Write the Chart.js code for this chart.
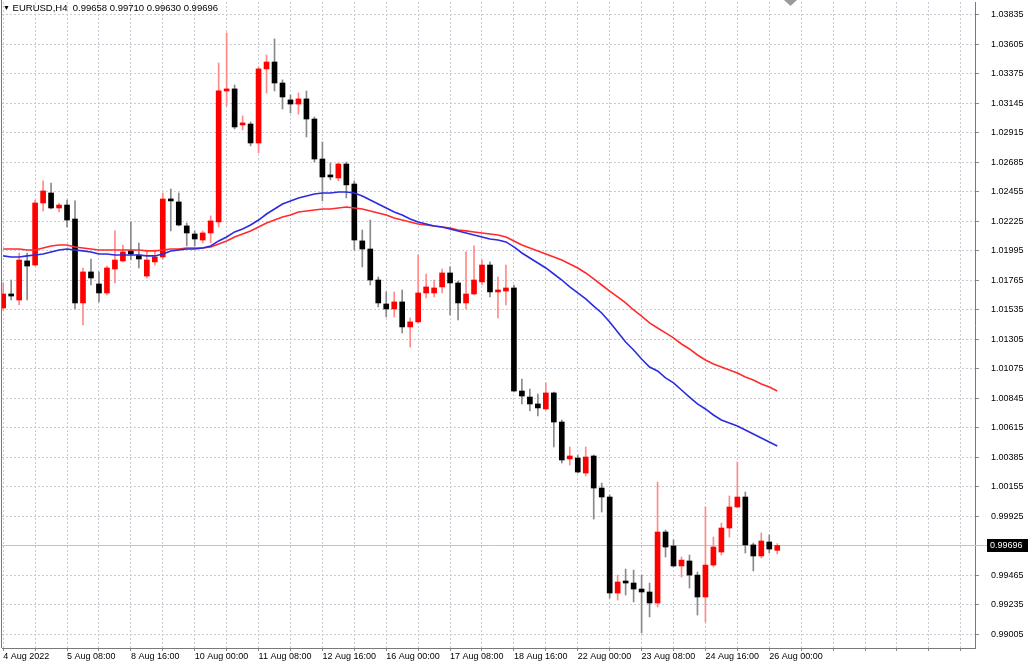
<!DOCTYPE html>
<html><head><meta charset="utf-8">
<script src="https://cdn.jsdelivr.net/npm/chart.js@4.4.0/dist/chart.umd.min.js"></script>
<style>
html,body{margin:0;padding:0;background:#fff;}
#wrap{position:relative;width:1032px;height:669px;overflow:hidden;}
#hdr{position:absolute;left:3px;top:1px;font:9.5px 'Liberation Sans',Arial,sans-serif;color:#000;white-space:pre;line-height:14px;}
#hdr .tri{font-size:7px;vertical-align:1px;}
</style></head><body>
<div id="wrap"><canvas id="c" width="1032" height="669"></canvas><div id="hdr"><span class="tri">▼</span> EURUSD,H4  0.99658 0.99710 0.99630 0.99696</div></div>
<script>
// ---- data (EURUSD H4, 4 Aug 2022 00:00 .. 26 Aug 2022 04:00) ----
const opens = [1.01549,1.01658,1.01611,1.01916,1.01884,1.02368,1.02446,1.02329,1.02352,1.02243,
1.01588,1.01830,1.01736,1.01666,1.01853,1.01916,1.01994,1.01962,1.01798,1.01908,
1.01947,1.02399,1.02376,1.02189,1.02126,1.02079,1.02134,1.02220,1.03242,1.03258,
1.02977,1.02984,1.02836,1.03414,1.03468,1.03304,1.03172,1.03140,1.03180,1.03023,
1.02711,1.02579,1.02563,1.02672,1.02516,1.02072,1.02009,1.01767,1.01580,1.01541,
1.01596,1.01401,1.01440,1.01666,1.01666,1.01713,1.01822,1.01744,1.01588,1.01658,
1.01752,1.01884,1.01674,1.01681,1.01705,1.00901,1.00854,1.00800,1.00761,1.00886,
1.00659,1.00371,1.00378,1.00261,1.00394,1.00144,1.00074,0.99325,0.99419,0.99403,
0.99356,0.99333,0.99247,0.99801,0.99692,0.99536,0.99575,0.99465,0.99294,0.99543,
0.99645,0.99832,0.99996,1.00074,0.99700,0.99614,0.99723,0.99658];
const highs = [1.01744,1.01767,1.01978,1.01978,1.02391,1.02540,1.02524,1.02368,1.02391,1.02384,
1.01861,1.01931,1.01830,1.01876,1.02150,1.02040,1.02220,1.02056,1.02001,1.02001,
1.02446,1.02477,1.02446,1.02212,1.02150,1.02150,1.02267,1.03460,1.03695,1.03289,
1.03047,1.03000,1.03429,1.03523,1.03648,1.03328,1.03211,1.03226,1.03242,1.03039,
1.02844,1.02680,1.02680,1.02688,1.02540,1.02157,1.02235,1.01791,1.01674,1.01674,
1.01689,1.01471,1.01962,1.01814,1.01767,1.01853,1.01869,1.01759,1.01986,1.02033,
1.01923,1.01908,1.01791,1.01884,1.01728,1.00995,1.00917,1.00878,1.00964,1.00893,
1.00675,1.00464,1.00402,1.00464,1.00402,1.00183,1.00090,0.99465,0.99512,0.99504,
0.99465,0.99403,1.00191,0.99817,0.99739,0.99606,0.99621,0.99489,0.99996,0.99762,
0.99871,1.00082,1.00347,1.00113,0.99715,0.99793,0.99778,0.99710];
const lows = [1.01533,1.01611,1.01572,1.01611,1.01876,1.02306,1.02321,1.02298,1.02181,1.01541,
1.01416,1.01728,1.01596,1.01650,1.01744,1.01908,1.01923,1.01861,1.01783,1.01884,
1.01931,1.02150,1.02189,1.02033,1.02033,1.02056,1.02056,1.02181,1.03125,1.02945,
1.02938,1.02813,1.02758,1.03226,1.03242,1.03101,1.03070,1.03062,1.02883,1.02688,
1.02384,1.02548,1.02540,1.02407,1.02001,1.01869,1.01728,1.01557,1.01479,1.01479,
1.01354,1.01244,1.01432,1.01627,1.01635,1.01666,1.01494,1.01455,1.01541,1.01650,
1.01728,1.01635,1.01471,1.01572,1.00893,1.00800,1.00745,1.00706,1.00753,1.00464,
1.00339,1.00324,1.00261,1.00238,0.99902,0.99957,0.99286,0.99270,0.99309,0.99255,
0.99013,0.99138,0.99216,0.99606,0.99528,0.99450,0.99364,0.99153,0.99099,0.99528,
0.99621,0.99762,0.99988,0.99637,0.99497,0.99598,0.99637,0.99630];
const closes = [1.01658,1.01642,1.01923,1.01876,1.02368,1.02462,1.02329,1.02352,1.02235,1.01588,
1.01830,1.01783,1.01666,1.01861,1.01923,1.01986,1.01970,1.01931,1.01923,1.01947,
1.02399,1.02384,1.02196,1.02134,1.02087,1.02134,1.02228,1.03242,1.03258,1.02961,
1.02984,1.02836,1.03414,1.03468,1.03304,1.03195,1.03140,1.03180,1.03023,1.02711,
1.02571,1.02571,1.02672,1.02509,1.02079,1.02009,1.01767,1.01588,1.01541,1.01596,
1.01401,1.01440,1.01666,1.01713,1.01705,1.01822,1.01744,1.01588,1.01658,1.01767,
1.01884,1.01674,1.01681,1.01705,1.00901,1.00862,1.00800,1.00769,1.00886,1.00659,
1.00363,1.00394,1.00269,1.00386,1.00144,1.00074,0.99325,0.99411,0.99403,0.99356,
0.99333,0.99247,0.99801,0.99684,0.99536,0.99582,0.99465,0.99294,0.99543,0.99684,
0.99832,0.99996,1.00074,0.99700,0.99614,0.99731,0.99668,0.99696];
const maSlow = [1.02009,1.02009,1.02009,1.02001,1.02001,1.02017,1.02033,1.02040,1.02040,1.02025,
1.02017,1.02009,1.02001,1.02001,1.02001,1.02001,1.02001,1.02001,1.01994,1.01994,
1.02001,1.02009,1.02009,1.02017,1.02017,1.02017,1.02025,1.02048,1.02072,1.02103,
1.02126,1.02150,1.02181,1.02212,1.02235,1.02259,1.02274,1.02298,1.02306,1.02313,
1.02321,1.02321,1.02329,1.02337,1.02329,1.02321,1.02306,1.02290,1.02274,1.02251,
1.02235,1.02220,1.02204,1.02196,1.02189,1.02181,1.02173,1.02157,1.02150,1.02142,
1.02134,1.02126,1.02118,1.02103,1.02072,1.02040,1.02017,1.01994,1.01970,1.01947,
1.01923,1.01892,1.01861,1.01822,1.01775,1.01728,1.01681,1.01635,1.01588,1.01533,
1.01486,1.01432,1.01393,1.01354,1.01315,1.01268,1.01229,1.01182,1.01143,1.01112,
1.01088,1.01065,1.01041,1.01010,1.00987,1.00956,1.00932,1.00901];
const maFast = [1.01955,1.01947,1.01947,1.01955,1.01962,1.01970,1.01986,1.02001,1.02009,1.02001,
1.01994,1.01986,1.01970,1.01970,1.01962,1.01962,1.01962,1.01962,1.01955,1.01955,
1.01970,1.01994,1.02001,1.02009,1.02009,1.02017,1.02033,1.02072,1.02103,1.02142,
1.02165,1.02196,1.02235,1.02282,1.02321,1.02360,1.02384,1.02407,1.02423,1.02438,
1.02446,1.02446,1.02454,1.02454,1.02446,1.02423,1.02391,1.02360,1.02329,1.02298,
1.02274,1.02243,1.02220,1.02204,1.02189,1.02181,1.02165,1.02150,1.02134,1.02118,
1.02103,1.02087,1.02079,1.02064,1.02025,1.01978,1.01939,1.01900,1.01861,1.01814,
1.01767,1.01713,1.01666,1.01619,1.01564,1.01510,1.01440,1.01362,1.01283,1.01221,
1.01151,1.01088,1.01057,1.01003,1.00964,1.00909,1.00854,1.00800,1.00761,1.00714,
1.00675,1.00652,1.00628,1.00597,1.00566,1.00535,1.00503,1.00472];
const timeTickIdx = [0,8,16,24,32,40,48,56,64,72,80,88,96];
const timeTickText = ['4 Aug 2022','5 Aug 08:00','8 Aug 16:00','10 Aug 00:00','11 Aug 08:00','12 Aug 16:00','16 Aug 00:00','17 Aug 08:00','18 Aug 16:00','22 Aug 00:00','23 Aug 08:00','24 Aug 16:00','26 Aug 00:00'];
const priceTicks = [1.03835,1.03605,1.03375,1.03145,1.02915,1.02685,1.02455,1.02225,1.01995,1.01765,1.01535,1.01305,1.01075,1.00845,1.00615,1.00385,1.00155,0.99925,0.99465,0.99235,0.99005];
const lastPrice = 0.99696;

// ---- chart ----
const UP = '#ff0000', DOWN = '#000000';
const UPWICK = '#ff8a8a', DOWNWICK = '#8a8a8a';
const isUp = i => closes[i] >= opens[i];
const FONT = "'Liberation Sans', Arial, sans-serif";
const GRID = '#c6cbd4';

const overlay = {
  id: 'overlay',
  beforeDatasetsDraw(chart) {
    const {ctx, chartArea: a, scales: {y}} = chart;
    const py = Math.round(y.getPixelForValue(lastPrice)) + 0.5;
    ctx.save();
    ctx.strokeStyle = '#c4c4c4'; ctx.lineWidth = 1;
    ctx.beginPath(); ctx.moveTo(a.left, py); ctx.lineTo(987, py); ctx.stroke();
    ctx.restore();
  },
  afterDraw(chart) {
    const {ctx, chartArea: a, scales: {y}} = chart;
    ctx.save();
    // left border
    ctx.strokeStyle = '#7a7a7a'; ctx.lineWidth = 1;
    ctx.beginPath(); ctx.moveTo(a.left - 0.5, 0); ctx.lineTo(a.left - 0.5, a.bottom); ctx.stroke();
    // price tag
    const py = Math.round(y.getPixelForValue(lastPrice));
    ctx.fillStyle = '#000';
    ctx.fillRect(987, py - 6, 41, 13);
    ctx.fillStyle = '#fff';
    ctx.font = '9px ' + FONT;
    ctx.textBaseline = 'middle'; ctx.textAlign = 'left';
    ctx.fillText(lastPrice.toFixed(5), 990, py + 0.5);
    // chart shift marker
    ctx.fillStyle = '#9a9a9a';
    ctx.beginPath(); ctx.moveTo(784, 0); ctx.lineTo(797, 0); ctx.lineTo(790.5, 6); ctx.closePath(); ctx.fill();
    ctx.restore();
  }
};

const idx = closes.map((_, i) => i);
new Chart(document.getElementById('c'), {
  type: 'bar',
  data: {
    datasets: [
      {
        type: 'line', label: 'MA fast', order: 0,
        data: idx.map(i => ({x: i, y: maFast[i]})),
        borderColor: '#2b2be0', borderWidth: 1.6, pointRadius: 0, tension: 0, fill: false
      },
      {
        type: 'line', label: 'MA slow', order: 1,
        data: idx.map(i => ({x: i, y: maSlow[i]})),
        borderColor: '#ff2b2b', borderWidth: 1.6, pointRadius: 0, tension: 0, fill: false
      },
      {
        label: 'body', order: 2, grouped: false,
        data: idx.map(i => ({x: i, y: [opens[i], closes[i]]})),
        backgroundColor: c => isUp(c.dataIndex) ? UP : DOWN,
        barThickness: 5, minBarLength: 2, borderWidth: 0, borderSkipped: false
      },
      {
        label: 'wick', order: 3, grouped: false,
        data: idx.map(i => ({x: i, y: [lows[i], highs[i]]})),
        backgroundColor: c => isUp(c.dataIndex) ? UPWICK : DOWNWICK,
        barThickness: 1, borderWidth: 0, borderSkipped: false
      }
    ]
  },
  options: {
    responsive: false, animation: false, devicePixelRatio: 1, events: [],
    layout: {padding: {left: 2, top: 2, right: 0, bottom: 0}},
    plugins: {legend: {display: false}, tooltip: {enabled: false}},
    scales: {
      x: {
        type: 'linear', min: -0.15, max: 121.78, offset: false,
        grid: {offset: false, color: GRID, lineWidth: 1, drawTicks: true, tickLength: 3, tickColor: '#8a8a8a'},
        border: {display: true, color: '#7a7a7a', dash: [2, 2]},
        afterBuildTicks: s => { const t = []; for (let v = 0; v <= 120; v += 4) t.push({value: v}); s.ticks = t; },
        afterFit: s => { s.height = 21; s.paddingLeft = 0; s.paddingRight = 0; },
        ticks: {
          autoSkip: false, maxRotation: 0, minRotation: 0, align: 'start', padding: 0,
          color: '#000', font: {family: FONT, size: 9},
          callback: v => { const k = timeTickIdx.indexOf(v); return k >= 0 ? timeTickText[k] : ''; }
        }
      },
      y: {
        type: 'linear', position: 'right', min: 0.98896, max: 1.03936, beginAtZero: false,
        grid: {color: GRID, lineWidth: 1, drawTicks: true, tickLength: 4, tickColor: '#8a8a8a'},
        border: {display: true, color: '#7a7a7a', dash: [2, 2]},
        afterBuildTicks: s => { s.ticks = priceTicks.map(v => ({value: v})); },
        afterFit: s => { s.width = 57; s.paddingTop = 0; s.paddingBottom = 0; },
        ticks: {
          padding: 12, color: '#000', font: {family: FONT, size: 9},
          callback: v => Number(v).toFixed(5)
        }
      }
    }
  },
  plugins: [overlay]
});
</script>
</body></html>
